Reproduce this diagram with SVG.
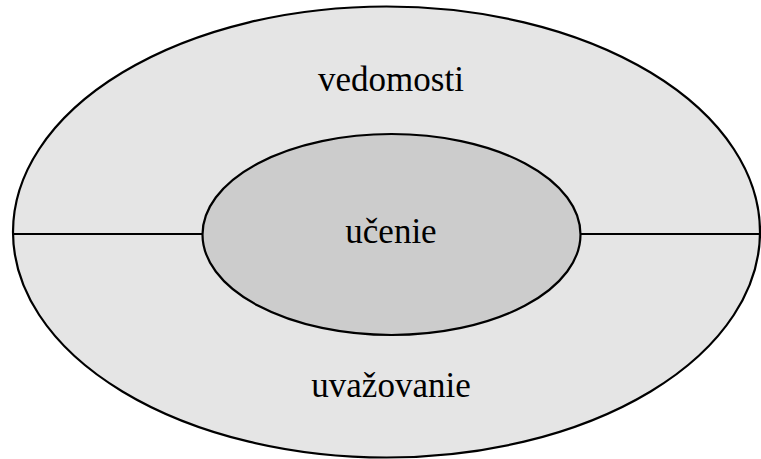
<svg xmlns="http://www.w3.org/2000/svg" width="761" height="459" viewBox="0 0 761 459">
  <style>
    .shape { stroke: #000; stroke-width: 2.2; }
    .outer { fill: #e5e5e5; }
    .inner { fill: #cccccc; }
    .label { font-family: "Liberation Serif", "Times New Roman", serif; font-size: 35px; fill: #000; text-anchor: middle; }
    .divider { stroke: #000; stroke-width: 2.2; fill: none; }
  </style>
  <g id="outer">
    <ellipse class="shape outer" cx="386.5" cy="232" rx="373.5" ry="225.5"/>
  </g>
  <g id="connectors">
    <line class="divider" x1="13" y1="234" x2="202" y2="234"/>
    <line class="divider" x1="581" y1="234" x2="761" y2="234"/>
  </g>
  <g id="vedomosti">
    <text class="label" x="391" y="91">vedomosti</text>
  </g>
  <g id="uvazovanie">
    <text class="label" x="391" y="397">uvažovanie</text>
  </g>
  <g id="ucenie">
    <ellipse class="shape inner" cx="391.5" cy="234.5" rx="189" ry="100.5"/>
    <text class="label" x="391" y="243">učenie</text>
  </g>
</svg>
